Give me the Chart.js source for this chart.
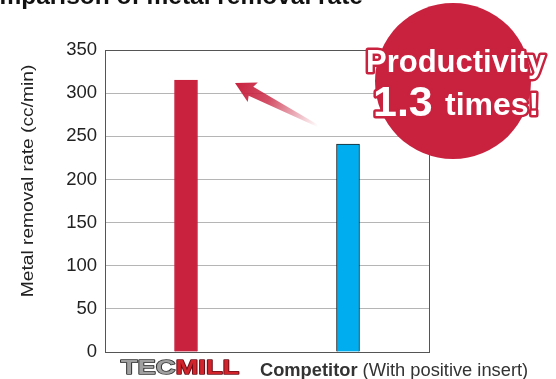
<!DOCTYPE html>
<html>
<head>
<meta charset="utf-8">
<script src="https://cdn.jsdelivr.net/npm/chart.js@4.4.1/dist/chart.umd.min.js"></script>
<style>
  html, body { margin: 0; padding: 0; background: #fff; }
  #wrap { position: relative; width: 556px; height: 379px; }
</style>
</head>
<body>
<div id="wrap"><canvas id="myBarChart" width="556" height="379"></canvas></div>
<script>
var categories = ['TECMILL', 'Competitor'];
var removalRate = [315, 241];
var yTicks = [0, 50, 100, 150, 200, 250, 300, 350];
var barColors = ['#C8223F', '#00AEEF'];
var barBorders = ['#C8223F', '#222222'];

var FONT = '"Liberation Sans", Arial, Helvetica, sans-serif';

// extra drawing: frame, title, axis title, labels, arrow, badge
var decorPlugin = {
    id: 'decor',
    afterDraw: function(chart){
        var ctx = chart.ctx;
        var area = chart.chartArea;
        var x = chart.scales.x;

        ctx.save();

        // frame round the plot
        ctx.strokeStyle = '#555';
        ctx.lineWidth = 1;
        ctx.strokeRect(Math.round(area.left) + 0.5, Math.round(area.top) + 0.5,
            Math.round(area.right - area.left), Math.round(area.bottom - area.top));

        // title, cut off at the top
        ctx.fillStyle = '#111';
        ctx.font = 'bold 24.5px ' + FONT;
        ctx.textAlign = 'right';
        ctx.textBaseline = 'alphabetic';
        ctx.fillText('Comparison of metal removal rate', 363, 4);

        // y axis title (stretched a bit, like the original)
        ctx.save();
        ctx.translate(29, 181);
        ctx.rotate(-Math.PI / 2);
        ctx.scale(1.2, 1);
        ctx.font = '16px ' + FONT;
        ctx.fillStyle = '#222';
        ctx.textAlign = 'center';
        ctx.textBaseline = 'middle';
        ctx.fillText('Metal removal rate (cc/min)', 0, 0);
        ctx.restore();

        // TECMILL logo label
        var cx = x.getPixelForValue(0);
        ctx.save();
        ctx.translate(cx - 6, 374);
        ctx.scale(1.37, 1);
        ctx.font = 'bold 20px ' + FONT;
        ctx.textAlign = 'left';
        ctx.textBaseline = 'alphabetic';
        var w1 = ctx.measureText('TEC').width;
        var w2 = ctx.measureText('MILL').width;
        var sx = -(w1 + w2) / 2;
        ctx.lineWidth = 1.5;
        ctx.lineJoin = 'round';
        ctx.strokeStyle = '#333';
        ctx.fillStyle = '#a0a0a0';
        ctx.strokeText('TEC', sx, 0);
        ctx.fillText('TEC', sx, 0);
        ctx.strokeStyle = '#6a0d18';
        ctx.fillStyle = '#D2232A';
        ctx.strokeText('MILL', sx + w1, 0);
        ctx.fillText('MILL', sx + w1, 0);
        ctx.restore();

        // Competitor label
        ctx.font = 'bold 18.3px ' + FONT;
        ctx.fillStyle = '#333';
        ctx.textAlign = 'left';
        var t1 = 'Competitor ';
        ctx.fillText(t1, 260, 376);
        var tw = ctx.measureText(t1).width;
        ctx.font = '18.3px ' + FONT;
        ctx.fillText('(With positive insert)', 260 + tw, 376);

        // arrow from competitor bar to tecmill bar
        var ax0 = 318, ay0 = 126, ax1 = 235, ay1 = 83;
        var grad = ctx.createLinearGradient(ax0, ay0, ax1, ay1);
        grad.addColorStop(0, 'rgba(200,34,63,0)');
        grad.addColorStop(0.6, 'rgba(200,34,63,0.8)');
        grad.addColorStop(1, 'rgba(200,34,63,1)');
        var ang = Math.atan2(ay1 - ay0, ax1 - ax0);
        var len = Math.hypot(ax1 - ax0, ay1 - ay0);
        ctx.save();
        ctx.translate(ax0, ay0);
        ctx.rotate(ang);
        ctx.beginPath();
        ctx.moveTo(0, -1);
        ctx.lineTo(len - 18, -5);
        ctx.lineTo(len - 20, -11);
        ctx.lineTo(len, 0);
        ctx.lineTo(len - 20, 11);
        ctx.lineTo(len - 18, 5);
        ctx.lineTo(0, 1);
        ctx.closePath();
        ctx.restore();
        ctx.fillStyle = grad;
        ctx.fill();

        // badge
        ctx.beginPath();
        ctx.arc(453, 81, 78, 0, Math.PI * 2);
        ctx.fillStyle = '#C8223F';
        ctx.fill();

        ctx.lineJoin = 'round';
        ctx.textBaseline = 'alphabetic';
        ctx.textAlign = 'left';
        ctx.strokeStyle = '#C8223F';
        ctx.fillStyle = '#fff';
        ctx.lineWidth = 5;

        ctx.font = 'bold 31px ' + FONT;
        ctx.strokeText('Productivity', 366, 72);
        ctx.fillText('Productivity', 366, 72);

        ctx.font = 'bold 43px ' + FONT;
        ctx.strokeText('1.3', 373, 116);
        ctx.fillText('1.3', 373, 116);
        ctx.font = 'bold 32px ' + FONT;
        ctx.strokeText('times!', 445, 115);
        ctx.fillText('times!', 445, 115);

        ctx.restore();
    }
};

(function(){
    var barChart = document.getElementById('myBarChart');
    new Chart(barChart, {
        type: 'bar',
        data: {
            labels: categories,
            datasets: [{
                label: 'Metal removal rate (cc/min)',
                data: removalRate,
                backgroundColor: barColors,
                borderColor: barBorders,
                borderWidth: 1,
                borderSkipped: 'bottom',
                barThickness: 23
            }]
        },
        options: {
            responsive: false,
            animation: false,
            layout: {
                padding: { top: 50, right: 127, bottom: 27, left: 0 }
            },
            plugins: {
                legend: { display: false },
                tooltip: { enabled: false }
            },
            scales: {
                x: {
                    ticks: { display: false },
                    grid: { display: false },
                    border: { color: '#555' },
                    afterFit: function(scale){ scale.height = 0; }
                },
                y: {
                    min: 0,
                    max: 350,
                    afterBuildTicks: function(scale){
                        scale.ticks = yTicks.map(function(v){ return { value: v }; });
                    },
                    afterFit: function(scale){ scale.width = 105; },
                    ticks: {
                        padding: 8,
                        color: '#222',
                        font: { family: FONT, size: 18.5 }
                    },
                    grid: { color: '#b5b5b5', drawTicks: false },
                    border: { color: '#555' }
                }
            }
        },
        plugins: [decorPlugin]
    });
})();
</script>
</body>
</html>
